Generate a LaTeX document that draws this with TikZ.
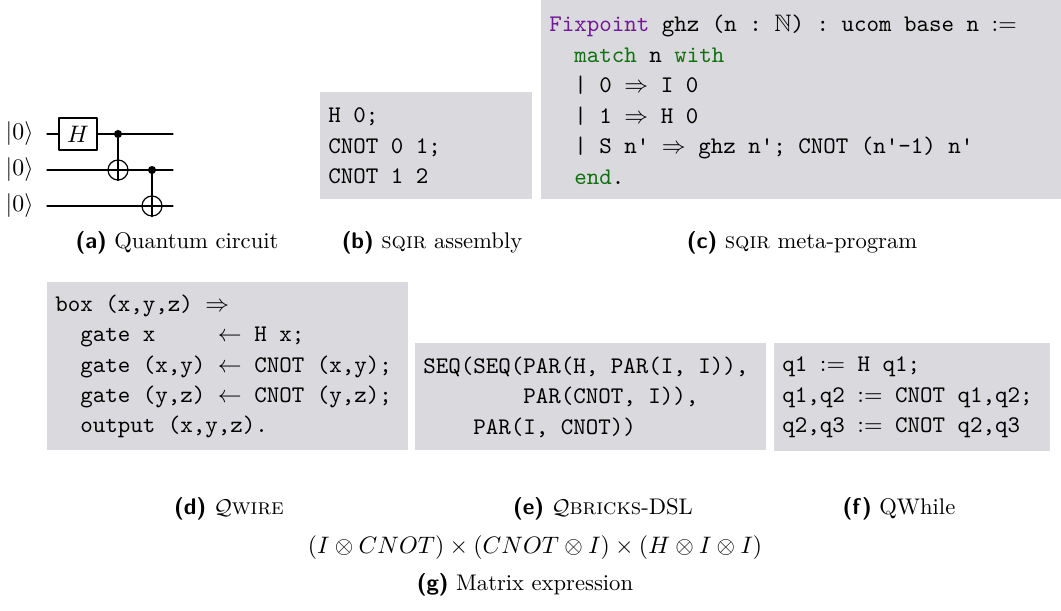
\documentclass[tikz,border=0pt]{standalone}
\usepackage{amssymb}
\definecolor{codebg}{RGB}{218,218,222}
\definecolor{coqvern}{RGB}{112,24,150}
\definecolor{coqkw}{RGB}{16,112,16}
\newcommand{\tq}{\textquotesingle}
\newcommand{\tsp}{\phantom{x}}
\newcommand{\subcap}[2]{{\sffamily\bfseries(#1)}~#2}

\begin{document}
\begin{tikzpicture}[x=0.42pt,y=-0.42pt, line join=round, line cap=round,
    wire/.style={line width=0.5pt},
    gatebox/.style={draw, fill=white, line width=0.5pt, minimum width=16pt, minimum height=13.4pt, inner sep=0pt},
    ctrl/.style={circle, fill, inner sep=0pt, minimum size=3.4pt},
    targ/.style={circle, draw, line width=0.5pt, inner sep=0pt, minimum size=8.4pt},
    code/.style={fill=codebg, anchor=north west, align=left, inner xsep=3.36pt, inner ysep=0pt,
        font={\fontsize{10}{12.8}\selectfont\ttfamily}},
    subcaption/.style={anchor=base, inner sep=0pt, font={\fontsize{9.5}{11}\selectfont}}]
    \useasboundingbox (0,0) rectangle (1061,610);
    % (a) circuit
    \foreach \w/\y in {1/134,2/170,3/206} {
        \node[anchor=east, inner sep=0pt] (ket\w) at (34,\y) {$|0\rangle$};
        \coordinate (win\w) at (47,\y);
        \coordinate (wout\w) at (173,\y);
        \draw[wire] (win\w) -- (wout\w);
    }
    \node[gatebox] (had) at (78,134) {$H$};
    \node[ctrl] (c1) at (118,134) {};
    \node[targ] (t1) at (118,170) {};
    \draw[wire] (c1.center) -- (t1.south);
    \node[ctrl] (c2) at (152,170) {};
    \node[targ] (t2) at (152,206) {};
    \draw[wire] (c2.center) -- (t2.south);
    % code listings
    \node[code, text width=82.3pt, minimum height=44.94pt] (sqirasm) at (320,92)
        {H\tsp 0;\\CNOT\tsp 0\tsp 1;\\CNOT\tsp 1\tsp 2};
    \node[code, text width=211.7pt, minimum height=83.58pt] (sqirmeta) at (541,0)
        {\textcolor{coqvern}{Fixpoint}\tsp ghz\tsp(n\tsp:\tsp$\mathbb{N}$)\tsp:\tsp ucom\tsp base\tsp n\tsp$:=$\\
         \phantom{xx}\textcolor{coqkw}{match}\tsp n\tsp\textcolor{coqkw}{with}\\
         \phantom{xx}|\tsp 0\tsp$\Rightarrow$\tsp I\tsp 0\\
         \phantom{xx}|\tsp 1\tsp$\Rightarrow$\tsp H\tsp 0\\
         \phantom{xx}|\tsp S\tsp n\tq\tsp$\Rightarrow$\tsp ghz\tsp n\tq;\tsp CNOT\tsp(n\tq-1)\tsp n\tq\\
         \phantom{xx}\textcolor{coqkw}{end}.};
    \node[code, text width=144.5pt, minimum height=70.56pt] (qwire) at (47,282)
        {box\tsp(x,y,z)\tsp$\Rightarrow$\\
         \phantom{xx}gate\tsp x\phantom{xxxx}\tsp$\leftarrow$\tsp H\tsp x;\\
         \phantom{xx}gate\tsp(x,y)\tsp$\leftarrow$\tsp CNOT\tsp(x,y);\\
         \phantom{xx}gate\tsp(y,z)\tsp$\leftarrow$\tsp CNOT\tsp(y,z);\\
         \phantom{xx}output\tsp(x,y,z).};
    \node[code, text width=140.3pt, minimum height=44.94pt] (qbricks) at (415,343)
        {SEQ(SEQ(PAR(H,\tsp PAR(I,\tsp I)),\\
         \phantom{SEQ(SEQ(}PAR(CNOT,\tsp I)),\\
         \phantom{SEQ(}PAR(I,\tsp CNOT))};
    \node[code, text width=108.8pt, minimum height=45.36pt] (qwhile) at (774,343)
        {q1\tsp$:=$\tsp H\tsp q1;\\q1,q2\tsp$:=$\tsp CNOT\tsp q1,q2;\\q2,q3\tsp$:=$\tsp CNOT\tsp q2,q3};
    % captions
    \node[subcaption] (capa) at (177,249) {\subcap{a}{Quantum circuit}};
    \node[subcaption] (capb) at (432,249) {\subcap{b}{\textsc{sqir} assembly}};
    \node[subcaption] (capc) at (802,249) {\subcap{c}{\textsc{sqir} meta-program}};
    \node[subcaption] (capd) at (229,514) {\subcap{d}{$\mathcal{Q}$\textsc{wire}}};
    \node[subcaption] (cape) at (603,514) {\subcap{e}{$\mathcal{Q}$\textsc{bricks}-DSL}};
    \node[subcaption] (capf) at (899,514) {\subcap{f}{QWhile}};
    \node[anchor=base, inner sep=0pt] (matexpr) at (535,553)
        {$(I\otimes CNOT)\times(CNOT\otimes I)\times(H\otimes I\otimes I)$};
    \node[subcaption] (capg) at (525,590) {\subcap{g}{Matrix expression}};
\end{tikzpicture}
\end{document}
